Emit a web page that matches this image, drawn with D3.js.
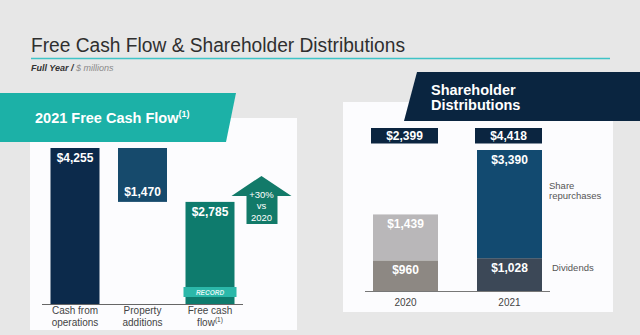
<!DOCTYPE html>
<html>
<head>
<meta charset="utf-8">
<script src="https://cdn.jsdelivr.net/npm/d3@7"></script>
<style>
  html, body { margin: 0; padding: 0; background: #e7e7e7; }
  svg { display: block; font-family: "Liberation Sans", Arial, sans-serif; }
</style>
</head>
<body>
<svg id="chart" width="640" height="335"></svg>
<script>
// 2021 free cash flow walk ($ millions)
const fcfCategories = ["ops", "capex", "fcf"];
const fcfLabels = [["Cash from", "operations"], ["Property", "additions"], ["Free cash", "flow"]];
const fcfValues = [4255, 1470, 2785];
const fcfChange = ["+30%", "vs", "2020"];

// Shareholder distributions by year ($ millions)
const distYears = ["2020", "2021"];
const dividends = [960, 1028];
const repurchases = [1439, 3390];
const distTotals = [2399, 4418];

const fmt = v => "$" + d3.format(",")(v);

const svg = d3.select("#chart");

// ---- page header ----
svg.append("text")
  .attr("x", 31).attr("y", 52)
  .attr("font-size", 19.5)
  .attr("fill", "#2f2f2f")
  .attr("textLength", 374).attr("lengthAdjust", "spacingAndGlyphs")
  .text("Free Cash Flow & Shareholder Distributions");
svg.append("line")
  .attr("x1", 31).attr("x2", 610).attr("y1", 58.5).attr("y2", 58.5)
  .attr("stroke", "#3fc3c6").attr("stroke-width", 1.5);
const sub = svg.append("text").attr("x", 31).attr("y", 70.5).attr("font-size", 9).attr("font-style", "italic");
sub.append("tspan").attr("font-weight", "bold").attr("fill", "#333").text("Full Year / ");
sub.append("tspan").attr("fill", "#8a8a8a").text(" $ millions");

// ---- left panel: free cash flow waterfall ----
svg.append("rect").attr("x", 30).attr("y", 118).attr("width", 267).attr("height", 212).attr("fill", "#fcfcfe");
svg.append("path")
  .attr("d", "M0,93 L236,93 L226,142 L0,142 Z")
  .attr("fill", "#1cb1a7");
const lt = svg.append("text").attr("x", 35).attr("y", 123).attr("font-size", 14.5)
  .attr("font-weight", "bold").attr("fill", "#fff");
lt.append("tspan").text("2021 Free Cash Flow");
lt.append("tspan").attr("font-size", 9).attr("dy", -6).text("(1)");

const xL = d3.scaleBand().domain(fcfCategories).range([42, 243]).paddingInner(0.274).paddingOuter(0.126);
const yL = d3.scaleLinear().domain([0, fcfValues[0]]).range([304, 148]);

// waterfall spans: operations from 0, additions hang from the operations top, FCF from 0
const spans = [
  [0, fcfValues[0]],
  [fcfValues[0] - fcfValues[1], fcfValues[0]],
  [0, fcfValues[2]]
];
const leftColors = ["#0c2a4b", "#164a6c", "#0e7b6d"];

svg.append("g").selectAll("rect").data(fcfCategories).join("rect")
  .attr("x", d => xL(d))
  .attr("width", xL.bandwidth())
  .attr("y", (d, i) => yL(spans[i][1]))
  .attr("height", (d, i) => yL(spans[i][0]) - yL(spans[i][1]))
  .attr("fill", (d, i) => leftColors[i]);

// value labels: top-anchored except the hanging additions bar (bottom-anchored)
svg.append("g").selectAll("text").data(fcfCategories).join("text")
  .attr("x", d => xL(d) + xL.bandwidth() / 2)
  .attr("y", (d, i) => i === 1 ? yL(spans[i][0]) - 6 : yL(spans[i][1]) + 14)
  .attr("text-anchor", "middle").attr("font-size", 12).attr("font-weight", "bold").attr("fill", "#fff")
  .text((d, i) => fmt(fcfValues[i]));

svg.append("line").attr("x1", 42).attr("x2", 243).attr("y1", 304.5).attr("y2", 304.5)
  .attr("stroke", "#666").attr("stroke-width", 1);

// category labels, two lines each
const catG = svg.append("g").selectAll("text").data(fcfCategories).join("text")
  .attr("x", d => xL(d) + xL.bandwidth() / 2)
  .attr("text-anchor", "middle").attr("font-size", 10).attr("fill", "#444");
catG.each(function (d, i) {
  const t = d3.select(this);
  const cx = xL(d) + xL.bandwidth() / 2;
  t.append("tspan").attr("x", cx).attr("y", 314.3).text(fcfLabels[i][0]);
});
svg.append("g").selectAll("text").data(fcfCategories).join("text")
  .attr("x", d => xL(d) + xL.bandwidth() / 2).attr("y", 325.8)
  .attr("text-anchor", "middle").attr("font-size", 10).attr("fill", "#444")
  .each(function (d, i) {
    const t = d3.select(this);
    t.append("tspan").text(fcfLabels[i][1]);
    if (i === 2) t.append("tspan").attr("font-size", 6.5).attr("dy", -4).text("(1)");
  });

// RECORD badge on the FCF bar
const fx = xL("fcf");
svg.append("rect").attr("x", fx - 2).attr("y", 287).attr("width", xL.bandwidth() + 4).attr("height", 10)
  .attr("fill", "#2bb8a9");
svg.append("text").attr("x", fx + xL.bandwidth() / 2).attr("y", 294.5)
  .attr("text-anchor", "middle").attr("font-size", 6.5).attr("font-weight", "bold").attr("font-style", "italic")
  .attr("fill", "#dff3f0").text("RECORD");

// growth arrow beside the FCF bar
const ax = fx + xL.bandwidth() + 27;
const aTop = yL(fcfValues[2]) - 26;
svg.append("path")
  .attr("d", `M${ax},${aTop} L${ax + 30},${aTop + 20} L${ax + 16},${aTop + 20} L${ax + 16},${aTop + 48}
              L${ax - 15},${aTop + 48} L${ax - 15},${aTop + 20} L${ax - 30},${aTop + 20} Z`)
  .attr("fill", "#127a69");
svg.append("g").selectAll("text").data(fcfChange).join("text")
  .attr("x", ax).attr("y", (d, i) => aTop + 22 + i * 11.5)
  .attr("text-anchor", "middle").attr("font-size", 9.5).attr("fill", "#fff").text(d => d);

// ---- right panel: shareholder distributions ----
svg.append("rect").attr("x", 343).attr("y", 102).attr("width", 270).attr("height", 210).attr("fill", "#fcfcfe");
svg.append("path")
  .attr("d", "M417,72 L640,72 L640,121 L404,121 Z")
  .attr("fill", "#0a2540");
svg.append("text").attr("x", 431).attr("y", 95).attr("font-size", 14.5).attr("font-weight", "bold")
  .attr("fill", "#fff").text("Shareholder");
svg.append("text").attr("x", 431).attr("y", 110).attr("font-size", 14.5).attr("font-weight", "bold")
  .attr("fill", "#fff").text("Distributions");

const xR = d3.scaleBand().domain(distYears).range([365, 550]).paddingInner(0.375).paddingOuter(0.077);
const yR = d3.scaleLinear().domain([0, distTotals[1]]).range([291, 150]);

const divColors = ["#8d8883", "#3c4857"];
const repColors = ["#b9b7b9", "#124a70"];

svg.append("g").selectAll("rect").data(distYears).join("rect")
  .attr("x", d => xR(d)).attr("width", xR.bandwidth())
  .attr("y", (d, i) => yR(dividends[i])).attr("height", (d, i) => yR(0) - yR(dividends[i]))
  .attr("fill", (d, i) => divColors[i]);
svg.append("g").selectAll("rect").data(distYears).join("rect")
  .attr("x", d => xR(d)).attr("width", xR.bandwidth())
  .attr("y", (d, i) => yR(dividends[i] + repurchases[i]))
  .attr("height", (d, i) => yR(dividends[i]) - yR(dividends[i] + repurchases[i]))
  .attr("fill", (d, i) => repColors[i]);

svg.append("g").selectAll("text").data(distYears).join("text")
  .attr("x", d => xR(d) + xR.bandwidth() / 2).attr("y", (d, i) => yR(dividends[i]) + 14)
  .attr("text-anchor", "middle").attr("font-size", 12).attr("font-weight", "bold").attr("fill", "#fff")
  .text((d, i) => fmt(dividends[i]));
svg.append("g").selectAll("text").data(distYears).join("text")
  .attr("x", d => xR(d) + xR.bandwidth() / 2).attr("y", (d, i) => yR(dividends[i] + repurchases[i]) + 14)
  .attr("text-anchor", "middle").attr("font-size", 12).attr("font-weight", "bold").attr("fill", "#fff")
  .text((d, i) => fmt(repurchases[i]));

// total boxes
svg.append("g").selectAll("rect").data(distYears).join("rect")
  .attr("x", d => xR(d) - 2).attr("width", xR.bandwidth() + 2).attr("y", 128).attr("height", 15.5)
  .attr("fill", "#0b2540");
svg.append("g").selectAll("text").data(distYears).join("text")
  .attr("x", d => xR(d) + xR.bandwidth() / 2 - 1).attr("y", 140)
  .attr("text-anchor", "middle").attr("font-size", 12).attr("font-weight", "bold").attr("fill", "#fff")
  .text((d, i) => fmt(distTotals[i]));

svg.append("line").attr("x1", 365).attr("x2", 550).attr("y1", 291.5).attr("y2", 291.5)
  .attr("stroke", "#777").attr("stroke-width", 1);

svg.append("g").selectAll("text").data(distYears).join("text")
  .attr("x", d => xR(d) + xR.bandwidth() / 2).attr("y", 305.5)
  .attr("text-anchor", "middle").attr("font-size", 10).attr("fill", "#444").text(d => d);

// series legend text
svg.append("text").attr("x", 549).attr("y", 189).attr("font-size", 9.5).attr("fill", "#555").text("Share");
svg.append("text").attr("x", 549).attr("y", 199).attr("font-size", 9.5).attr("fill", "#555").text("repurchases");
svg.append("text").attr("x", 552).attr("y", 270.5).attr("font-size", 9.5).attr("fill", "#555").text("Dividends");
</script>
</body>
</html>
